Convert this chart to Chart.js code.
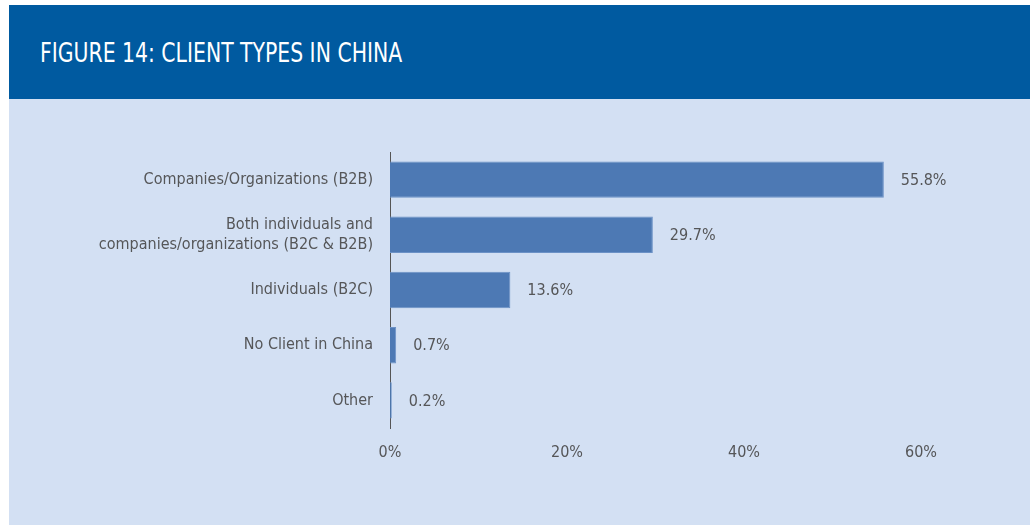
<!DOCTYPE html>
<html>
<head>
<meta charset="utf-8">
<script src="https://cdn.jsdelivr.net/npm/chart.js@4/dist/chart.umd.min.js"></script>
<style>
  body { margin: 0; background: #fff; width: 1033px; height: 526px; overflow: hidden; }
  #header {
    position: absolute; left: 9px; top: 5px; width: 1021px; height: 94px;
    background: #005aa0;
  }
  #header span {
    position: absolute; left: 31px; top: 0; line-height: 96px; white-space: nowrap;
    color: #fff; font-family: "Liberation Sans Narrow", "DejaVu Sans Condensed", sans-serif;
    font-size: 27px; transform: scaleX(0.84); transform-origin: 0 50%;
  }
  #panel {
    position: absolute; left: 9px; top: 99px; width: 1021px; height: 426px;
    background: #d3e0f3;
  }
</style>
</head>
<body>
<div id="header"><span>FIGURE 14: CLIENT TYPES IN CHINA</span></div>
<div id="panel"><canvas id="bars" width="1021" height="426"></canvas></div>
<script>
var categories = [
  "Companies/Organizations (B2B)",
  ["Both individuals and", "companies/organizations (B2C & B2B)"],
  "Individuals (B2C)",
  "No Client in China",
  "Other"
];
var shares = [55.8, 29.7, 13.6, 0.7, 0.2];
var tickValues = [0, 20, 40, 60];

var FONT = "'Liberation Sans Narrow', 'DejaVu Sans Condensed', sans-serif";
var GREY = "#555658";

// value text to the right of every bar
var valueLabels = {
  id: "valueLabels",
  afterDatasetsDraw: function(chart) {
    var ctx = chart.ctx;
    var meta = chart.getDatasetMeta(0);
    ctx.save();
    ctx.font = "16px " + FONT;
    ctx.fillStyle = GREY;
    ctx.textBaseline = "middle";
    ctx.textAlign = "left";
    meta.data.forEach(function(bar, i) {
      ctx.fillText(shares[i].toFixed(1) + "%", bar.x + 17, bar.y + 1);
    });
    ctx.restore();
  }
};

new Chart(document.getElementById("bars"), {
  type: "bar",
  data: {
    labels: categories,
    datasets: [{
      data: shares,
      backgroundColor: "#4d79b4",
      borderColor: "#6b91c6",
      borderWidth: 1,
      barPercentage: 0.66,
      categoryPercentage: 1
    }]
  },
  options: {
    indexAxis: "y",
    responsive: false,
    animation: false,
    layout: { padding: { top: 53, right: 109, bottom: 0, left: 0 } },
    plugins: { legend: { display: false }, tooltip: { enabled: false } },
    scales: {
      x: {
        min: 0,
        max: 60,
        afterBuildTicks: function(scale) {
          scale.ticks = tickValues.map(function(v) { return { value: v }; });
        },
        afterFit: function(scale) { scale.height = 97; },
        grid: { display: false, drawTicks: false },
        border: { display: false },
        ticks: {
          padding: 15,
          color: GREY,
          font: { family: FONT, size: 16 },
          callback: function(v) { return v + "%"; }
        }
      },
      y: {
        afterFit: function(scale) { scale.width = 381; },
        grid: { display: false, drawTicks: false },
        border: { display: true, color: "#555", width: 1 },
        ticks: {
          padding: 17,
          color: GREY,
          font: { family: FONT, size: 16, lineHeight: 1.25 }
        }
      }
    }
  },
  plugins: [valueLabels]
});
</script>
</body>
</html>
